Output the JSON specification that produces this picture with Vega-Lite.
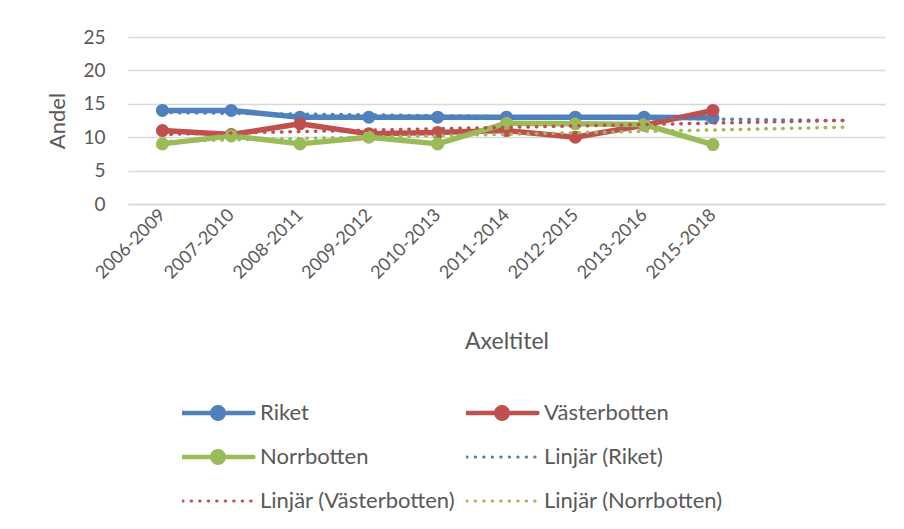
{
  "$schema": "https://vega.github.io/schema/vega-lite/v6.json",
  "width": 757,
  "height": 167,
  "autosize": {"type": "none"},
  "padding": {"left": 128, "top": 37, "right": 19, "bottom": 325},
  "background": "white",
  "config": {"view": {"stroke": null}, "font": "Lato"},
  "data": {
    "values": [
      {"i": 1, "period": "2006-2009", "series": "Riket", "trend": "Linjär (Riket)", "value": 14},
      {"i": 2, "period": "2007-2010", "series": "Riket", "trend": "Linjär (Riket)", "value": 14},
      {"i": 3, "period": "2008-2011", "series": "Riket", "trend": "Linjär (Riket)", "value": 13},
      {"i": 4, "period": "2009-2012", "series": "Riket", "trend": "Linjär (Riket)", "value": 13},
      {"i": 5, "period": "2010-2013", "series": "Riket", "trend": "Linjär (Riket)", "value": 13},
      {"i": 6, "period": "2011-2014", "series": "Riket", "trend": "Linjär (Riket)", "value": 13},
      {"i": 7, "period": "2012-2015", "series": "Riket", "trend": "Linjär (Riket)", "value": 13},
      {"i": 8, "period": "2013-2016", "series": "Riket", "trend": "Linjär (Riket)", "value": 13},
      {"i": 9, "period": "2015-2018", "series": "Riket", "trend": "Linjär (Riket)", "value": 12.9},
      {"i": 1, "period": "2006-2009", "series": "Västerbotten", "trend": "Linjär (Västerbotten)", "value": 11},
      {"i": 2, "period": "2007-2010", "series": "Västerbotten", "trend": "Linjär (Västerbotten)", "value": 10.4},
      {"i": 3, "period": "2008-2011", "series": "Västerbotten", "trend": "Linjär (Västerbotten)", "value": 12},
      {"i": 4, "period": "2009-2012", "series": "Västerbotten", "trend": "Linjär (Västerbotten)", "value": 10.5},
      {"i": 5, "period": "2010-2013", "series": "Västerbotten", "trend": "Linjär (Västerbotten)", "value": 10.7},
      {"i": 6, "period": "2011-2014", "series": "Västerbotten", "trend": "Linjär (Västerbotten)", "value": 11},
      {"i": 7, "period": "2012-2015", "series": "Västerbotten", "trend": "Linjär (Västerbotten)", "value": 10},
      {"i": 8, "period": "2013-2016", "series": "Västerbotten", "trend": "Linjär (Västerbotten)", "value": 11.8},
      {"i": 9, "period": "2015-2018", "series": "Västerbotten", "trend": "Linjär (Västerbotten)", "value": 14},
      {"i": 1, "period": "2006-2009", "series": "Norrbotten", "trend": "Linjär (Norrbotten)", "value": 9},
      {"i": 2, "period": "2007-2010", "series": "Norrbotten", "trend": "Linjär (Norrbotten)", "value": 10.2},
      {"i": 3, "period": "2008-2011", "series": "Norrbotten", "trend": "Linjär (Norrbotten)", "value": 9},
      {"i": 4, "period": "2009-2012", "series": "Norrbotten", "trend": "Linjär (Norrbotten)", "value": 10},
      {"i": 5, "period": "2010-2013", "series": "Norrbotten", "trend": "Linjär (Norrbotten)", "value": 9},
      {"i": 6, "period": "2011-2014", "series": "Norrbotten", "trend": "Linjär (Norrbotten)", "value": 12.1},
      {"i": 7, "period": "2012-2015", "series": "Norrbotten", "trend": "Linjär (Norrbotten)", "value": 12},
      {"i": 8, "period": "2013-2016", "series": "Norrbotten", "trend": "Linjär (Norrbotten)", "value": 11.9},
      {"i": 9, "period": "2015-2018", "series": "Norrbotten", "trend": "Linjär (Norrbotten)", "value": 8.9}
    ]
  },
  "encoding": {
    "x": {
      "field": "i",
      "type": "quantitative",
      "scale": {"domain": [0.5, 11.5], "nice": false, "zero": false},
      "axis": {
        "values": [1, 2, 3, 4, 5, 6, 7, 8, 9],
        "labelExpr": "['2006-2009','2007-2010','2008-2011','2009-2012','2010-2013','2011-2014','2012-2015','2013-2016','2015-2018'][datum.value - 1]",
        "labelAngle": -45,
        "labelAlign": "right",
        "labelBaseline": "middle",
        "labelFontSize": 18,
        "labelColor": "#595959",
        "labelPadding": 8,
        "labelOverlap": false,
        "ticks": false,
        "grid": false,
        "domain": true,
        "domainColor": "#D9D9D9",
        "domainWidth": 1.3,
        "title": "Axeltitel",
        "titleFontSize": 23,
        "titleFontWeight": "normal",
        "titleColor": "#595959",
        "titlePadding": 48
      }
    },
    "y": {
      "field": "value",
      "type": "quantitative",
      "scale": {"domain": [0, 25], "nice": false},
      "axis": {
        "values": [0, 5, 10, 15, 20, 25],
        "grid": true,
        "gridColor": "#D9D9D9",
        "gridWidth": 1.3,
        "domain": false,
        "ticks": false,
        "labelFontSize": 19,
        "labelColor": "#595959",
        "labelPadding": 23,
        "title": "Andel",
        "titleFontSize": 22,
        "titleFontWeight": "normal",
        "titleColor": "#595959",
        "titlePadding": 13
      }
    }
  },
  "layer": [
    {
      "mark": {"type": "line", "strokeWidth": 5.5, "strokeJoin": "round"},
      "encoding": {
        "color": {
          "field": "series",
          "type": "nominal",
          "scale": {
            "domain": ["Riket", "Västerbotten", "Norrbotten", "Linjär (Riket)", "Linjär (Västerbotten)", "Linjär (Norrbotten)"],
            "range": ["#4F81BD", "#C0504D", "#9BBB59", "#4F81BD", "#C0504D", "#9BBB59"]
          },
          "legend": {
            "orient": "none",
            "legendX": 54,
            "legendY": 365,
            "columns": 2,
            "direction": "horizontal",
            "title": null,
            "labelFontSize": 22,
            "labelColor": "#595959",
            "labelLimit": 400,
            "labelOffset": 31,
            "symbolOffset": 25,
            "symbolSize": 5000,
            "clipHeight": 22,
            "rowPadding": 22,
            "columnPadding": 10,
            "encode": {
              "symbols": {
                "update": {
                  "shape": {"signal": "datum.index >= 3 ? 'M-1,0H1' : 'M-1,0H1M0.16,0A0.16,0.16,0,1,1,-0.16,0A0.16,0.16,0,1,1,0.16,0Z'"},
                  "strokeDash": {"signal": "datum.index >= 3 ? [0.5, 8] : [1, 0]"},
                  "strokeWidth": {"signal": "datum.index >= 3 ? 3 : 4.6"},
                  "strokeCap": {"value": "round"},
                  "fill": {"scale": "color", "field": "value"}
                }
              }
            }
          }
        }
      }
    },
    {
      "mark": {"type": "point", "filled": true, "size": 170, "opacity": 1},
      "encoding": {
        "color": {"field": "series", "type": "nominal", "legend": null}
      }
    },
    {
      "transform": [
        {"regression": "value", "on": "i", "groupby": ["trend"], "extent": [1, 11]}
      ],
      "mark": {"type": "line", "strokeDash": [0.5, 8], "strokeCap": "round", "strokeWidth": 3.5},
      "encoding": {
        "color": {"field": "trend", "type": "nominal", "legend": null}
      }
    }
  ]
}
